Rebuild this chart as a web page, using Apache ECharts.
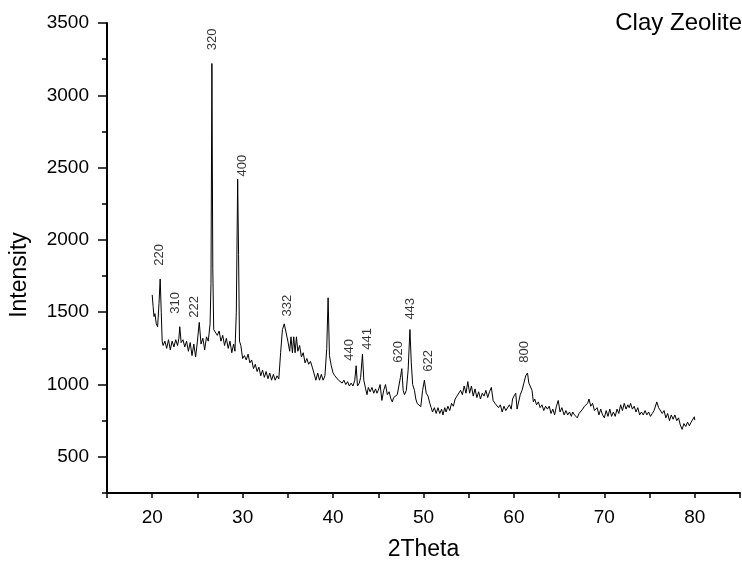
<!DOCTYPE html>
<html>
<head>
<meta charset="utf-8">
<script src="https://cdn.jsdelivr.net/npm/echarts@6/dist/echarts.min.js"></script>
<style>
  html, body {margin: 0; padding: 0; background: #fff;}
  #chart {width: 742px; height: 561px;}
</style>
</head>
<body>
<div id="chart"></div>
<script>
// XRD pattern: [2theta, intensity]
const pattern = [
  [20.0,1620],[20.1,1540],[20.2,1470],[20.3,1490],[20.45,1420],[20.6,1400],[20.75,1560],[20.88,1730],[21.0,1500],[21.1,1300],[21.2,1270],
  [21.4,1300],[21.6,1250],[21.8,1310],[22.0,1240],[22.2,1300],[22.4,1260],[22.6,1310],[22.8,1270],[22.95,1320],[23.05,1400],[23.2,1290],
  [23.4,1310],[23.6,1260],[23.8,1300],[24.0,1230],[24.2,1290],[24.4,1200],[24.6,1280],[24.8,1190],[25.0,1300],[25.2,1430],[25.4,1280],
  [25.6,1320],[25.8,1240],[26.0,1330],[26.2,1300],[26.4,1420],[26.5,1700],[26.6,3220],[26.7,1800],[26.8,1380],[27.0,1390],[27.2,1340],
  [27.4,1370],[27.6,1300],[27.8,1340],[28.0,1270],[28.2,1320],[28.4,1250],[28.6,1300],[28.8,1220],[29.0,1280],[29.15,1230],[29.3,1500],
  [29.45,2420],[29.55,1900],[29.65,1300],[29.8,1270],[30.0,1180],[30.2,1200],[30.4,1170],[30.6,1210],[30.8,1150],[31.0,1170],[31.2,1110],
  [31.4,1140],[31.6,1090],[31.8,1120],[32.0,1060],[32.2,1100],[32.4,1050],[32.6,1090],[32.8,1040],[33.0,1080],[33.2,1030],[33.4,1070],
  [33.6,1030],[33.8,1060],[34.0,1040],[34.2,1220],[34.4,1380],[34.6,1420],[34.8,1410],[35.0,1300],[35.2,1230],[35.35,1330],[35.5,1220],
  [35.65,1330],[35.8,1220],[35.95,1330],[36.1,1230],[36.3,1270],[36.5,1190],[36.7,1220],[36.9,1150],[37.1,1180],[37.3,1140],[37.5,1160],
  [37.7,1120],[37.9,1130],[38.1,1030],[38.3,1080],[38.5,1030],[38.7,1070],[38.9,1030],[39.1,1060],[39.3,1250],[39.45,1600],[39.6,1200],
  [39.8,1130],[40.0,1080],[40.2,1060],[40.4,1050],[40.6,1030],[40.8,1040],[41.0,1010],[41.2,1030],[41.4,1000],[41.6,1020],[41.8,990],
  [42.0,1010],[42.2,990],[42.4,1030],[42.55,1130],[42.7,990],[42.9,1010],[43.05,1050],[43.25,1210],[43.4,1030],[43.6,970],[43.75,930],
  [43.9,980],[44.1,950],[44.3,980],[44.5,940],[44.7,970],[44.85,940],[45.0,960],[45.2,1000],[45.4,890],[45.6,960],[45.8,1000],
  [46.0,930],[46.2,950],[46.4,900],[46.55,880],[46.7,910],[46.9,900],[47.1,930],[47.3,940],[47.45,1050],[47.6,1110],[47.75,960],
  [47.9,930],[48.1,960],[48.3,1100],[48.5,1380],[48.65,1150],[48.8,1000],[49.0,960],[49.15,900],[49.3,870],[49.5,880],[49.7,847],
  [49.9,960],[50.1,1030],[50.3,940],[50.5,920],[50.7,870],[50.85,840],[51.0,810],[51.2,840],[51.4,800],[51.6,840],[51.8,800],
  [52.0,830],[52.15,790],[52.35,840],[52.5,810],[52.7,850],[52.9,820],[53.1,870],[53.3,850],[53.5,900],[53.7,920],[53.9,910],
  [54.1,960],[54.3,930],[54.5,990],[54.7,940],[54.9,1020],[55.1,940],[55.3,990],[55.5,920],[55.7,970],[55.9,910],[56.1,950],
  [56.3,900],[56.5,940],[56.7,920],[56.9,960],[57.1,910],[57.3,950],[57.5,980],[57.7,890],[57.9,870],[58.1,880],[58.3,840],
  [58.5,860],[58.7,810],[58.9,850],[59.1,820],[59.3,830],[59.5,860],[59.7,830],[59.85,900],[60.0,920],[60.2,940],[60.35,830],
  [60.5,830],[60.7,930],[60.9,960],[61.1,1010],[61.3,1060],[61.5,1080],[61.65,1010],[61.8,1020],[62.0,960],[62.15,880],[62.3,900],
  [62.5,860],[62.7,880],[62.9,840],[63.1,860],[63.3,820],[63.5,850],[63.7,830],[63.9,850],[64.1,800],[64.3,830],[64.5,790],
  [64.7,850],[64.9,890],[65.1,810],[65.3,840],[65.55,790],[65.75,820],[65.95,790],[66.15,810],[66.35,780],[66.5,810],[66.7,790],
  [66.85,800],[67.0,770],[67.2,800],[67.4,810],[67.6,830],[67.8,850],[67.95,860],[68.15,870],[68.3,900],[68.5,850],[68.7,870],
  [68.9,820],[69.05,810],[69.2,840],[69.4,790],[69.6,830],[69.8,790],[70.0,770],[70.2,820],[70.4,780],[70.6,830],[70.8,780],
  [71.0,810],[71.2,780],[71.4,830],[71.6,800],[71.8,860],[72.0,820],[72.2,870],[72.4,830],[72.6,860],[72.75,840],[72.9,870],
  [73.1,830],[73.3,850],[73.5,810],[73.7,840],[73.9,790],[74.1,810],[74.3,790],[74.5,820],[74.7,790],[74.9,810],[75.1,780],
  [75.3,800],[75.5,820],[75.8,880],[76.0,840],[76.2,830],[76.4,800],[76.6,820],[76.8,770],[77.0,800],[77.2,750],[77.4,790],
  [77.6,760],[77.8,790],[78.0,750],[78.2,770],[78.4,720],[78.6,690],[78.8,730],[79.0,710],[79.2,740],[79.4,715],[79.6,740],
  [79.8,730],[79.95,777],[80.0,754]
]

// Miller index labels and where their text starts (bottom end, written upward)
const peakNames = ['220', '310', '222', '320', '400', '332', '440', '441', '620', '443', '622', '800']
const peakTheta = [20.81, 22.53, 24.63, 26.63, 29.95, 34.93, 41.8, 43.79, 47.23, 48.55, 50.55, 61.18]
const peakLabelY = [1822, 1490, 1462, 3311, 2439, 1470, 1165, 1241, 1151, 1449, 1088, 1151]

const xTickLabels = [20, 30, 40, 50, 60, 70, 80]
const yTickLabels = [500, 1000, 1500, 2000, 2500, 3000, 3500]

const font = 'Liberation Sans, Arial, sans-serif'

const chart = echarts.init(document.getElementById('chart'))
chart.setOption({
  animation: false,
  backgroundColor: '#fff',
  title: {
    text: 'Clay Zeolite',
    right: 0,
    top: 11,
    padding: 0,
    textStyle: {fontFamily: font, fontSize: 24, fontWeight: 'normal', color: '#000'}
  },
  grid: {left: 107, right: 2, top: 23, bottom: 68, outerBoundsMode: 'none', containLabel: false},
  xAxis: {
    type: 'value',
    min: 15,
    max: 85,
    interval: 5,
    name: '2Theta',
    nameLocation: 'middle',
    nameGap: 45,
    nameTextStyle: {fontFamily: font, fontSize: 23, color: '#000'},
    axisLine: {lineStyle: {color: '#000', width: 2}},
    axisTick: {length: 5, lineStyle: {color: '#000', width: 1.5}},
    axisLabel: {
      fontFamily: font, fontSize: 19, color: '#000', margin: 15,
      formatter: v => xTickLabels.includes(v) ? String(v) : ''
    },
    splitLine: {show: false}
  },
  yAxis: [{
    type: 'value',
    min: 250,
    max: 3500,
    interval: 250,
    name: 'Intensity',
    nameLocation: 'middle',
    nameGap: 76,
    nameTextStyle: {fontFamily: font, fontSize: 23, color: '#000', padding: [0, 34, 0, 0]},
    axisLine: {show: true, lineStyle: {color: '#000', width: 2}},
    axisTick: {length: 5, lineStyle: {color: '#000', width: 1.5}},
    axisLabel: {
      fontFamily: font, fontSize: 19, color: '#000', margin: 18,
      formatter: v => yTickLabels.includes(v) ? String(v) : ''
    },
    splitLine: {show: false}
  }, {
    type: 'value',
    min: 250,
    max: 3500,
    position: 'left',
    axisLine: {show: false},
    axisTick: {show: true, length: 9, customValues: yTickLabels, lineStyle: {color: '#000', width: 1.5}},
    axisLabel: {show: false},
    splitLine: {show: false}
  }],
  series: [{
    type: 'line',
    data: pattern,
    showSymbol: false,
    symbol: 'none',
    lineStyle: {color: '#000', width: 1},
    silent: true
  }, {
    type: 'scatter',
    symbolSize: 0,
    data: peakNames.map((n, i) => ({name: n, value: [peakTheta[i], peakLabelY[i]]})),
    label: {
      show: true,
      position: [0, 0],
      rotate: 90,
      align: 'left',
      verticalAlign: 'middle',
      formatter: p => p.name,
      fontFamily: font,
      fontSize: 13,
      color: '#000'
    },
    silent: true
  }]
})
</script>
</body>
</html>
